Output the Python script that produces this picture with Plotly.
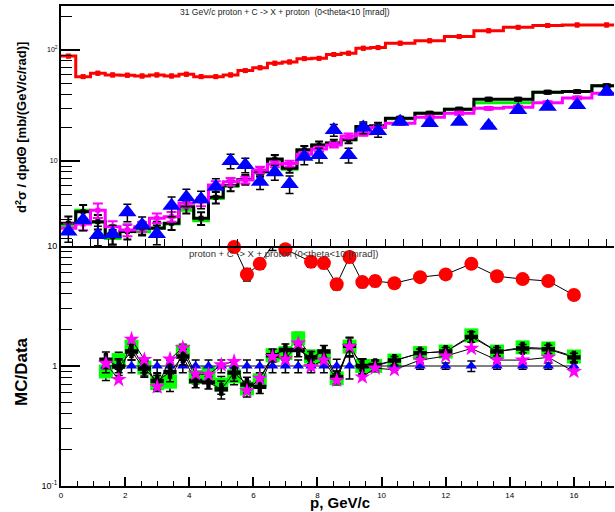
import plotly.graph_objects as go

# ---------------- upper pad: spectra (data in upper-pad p units) ----------------
top_edges = [0.0, 0.4, 0.8, 1.2, 1.6, 2.0, 2.4, 2.8, 3.2, 3.6, 4.0, 4.4, 4.8, 5.2, 5.6,
             6.0, 6.4, 6.8, 7.2, 7.6, 8.0, 8.4, 8.8, 9.6, 10.4, 11.2, 12.0, 12.8, 13.6, 14.4, 15.2]

red_mc = [88, 57.5, 61.7, 59.6, 59.2, 58.3, 59.6, 58.3, 60.4, 57.5, 57.5, 59.6, 65.2, 69.2,
          75.9, 78, 83.5, 84.1, 91, 93.4, 103.6, 105, 115, 121, 132, 149, 160, 166, 168, 168]
green_mc = [2.6, 3.6, 2.8, 2.0, 2.3, 2.3, 2.5, 2.7, 3.6, 2.9, 4.6, 5.9, 6.8, 8.0, 10.2, 8.4,
            12.4, 13.9, 14.5, 15.5, 20.0, 20.4, 24.0, 26.9, 29.3, 33.5, 33.5, 41.6, 42.2, 47.6]
black_mc = [2.75, 3.49, 2.84, 2.08, 2.31, 2.48, 2.48, 2.75, 3.87, 3.05, 4.7, 6.0, 6.8, 8.0,
            10.4, 8.6, 12.6, 13.9, 14.5, 15.5, 20.4, 20.8, 24.3, 26.9, 29.3, 36, 36, 41.6, 42.2, 47.6]
magenta_mc = [2.48, 2.7, 3.6, 2.56, 2.39, 2.56, 3.05, 3.15, 4.16, 4.3, 6.08, 6.5, 6.75, 8.3,
              9.33, 9.5, 11.5, 12.8, 13.9, 16.8, 17.6, 20.0, 21.9, 24.8, 26.9, 29.8, 30.5, 33.5, 37.0, 40.8]
data_top = [2.31, 2.94, 2.15, 2.2, 3.45, 2.65, 2.2, 3.94, 4.71, 4.52, 5.86, 10.0, 9.2, 6.5,
            7.9, 6.2, 10.9, 11.3, 19.0, 11.3, 20.0, 18.6, 22.6, 22.0, 22.6, 20.8, 28.8, 30.8, 32.0, 42.0]

# relative uncertainties
red_mc_err = [0.03] * 30
black_mc_err = [0.15, 0.15, 0.15, 0.15, 0.15, 0.14, 0.14, 0.13, 0.13, 0.13, 0.12, 0.11, 0.1, 0.1,
                0.09, 0.09, 0.08, 0.08, 0.07, 0.07, 0.06, 0.06, 0.03, 0.03, 0.03, 0.03, 0.03, 0.03, 0.03, 0.03]
magenta_mc_err = [0.1, 0.12, 0.15, 0.12, 0.12, 0.1, 0.1, 0.1, 0.09, 0.09, 0.08, 0.08, 0.07, 0.07,
                  0.06, 0.06, 0.05, 0.05, 0.05, 0.05, 0.04, 0.04, 0.03, 0.03, 0.03, 0.03, 0.03, 0.03, 0.03, 0.03]
data_top_err = [0.2, 0.2, 0.2, 0.2, 0.18, 0.18, 0.2, 0.2, 0.18, 0.18, 0.18, 0.15, 0.15, 0.15,
                0.15, 0.18, 0.15, 0.15, 0.12, 0.15, 0.12, 0.12, 0.05, 0.05, 0.05, 0.05, 0.05, 0.05, 0.05, 0.05]

# ---------------- lower pad: MC/Data ----------------
p_ratio = [1.4, 1.8, 2.2, 2.6, 3.0, 3.4, 3.8, 4.2, 4.6, 5.0, 5.4, 5.8, 6.2, 6.6, 7.0, 7.4, 7.8,
           8.2, 8.6, 9.0, 9.4, 9.8, 10.4, 11.2, 12.0, 12.8, 13.6, 14.4, 15.2, 16.0]
green_ratio = [0.9, 1.12, 1.45, 0.97, 0.72, 0.74, 1.32, 0.81, 0.87, 0.7, 0.82, 0.65, 0.76, 1.23,
               1.28, 1.7, 1.2, 1.2, 0.79, 1.45, 1.0, 1.0, 1.11, 1.28, 1.32, 1.8, 1.32, 1.43, 1.4, 1.2]
black_ratio = [1.13, 0.99, 1.32, 0.95, 0.75, 0.89, 1.2, 0.75, 0.73, 0.64, 0.88, 0.7, 0.67, 1.23,
               1.36, 1.36, 1.18, 1.32, 0.81, 1.47, 1.0, 1.02, 1.11, 1.28, 1.32, 1.75, 1.32, 1.4, 1.38, 1.18]
magenta_ratio = [1.05, 0.77, 1.67, 1.13, 0.67, 1.14, 1.42, 0.86, 0.85, 1.02, 1.09, 0.62, 0.79, 1.2,
                 1.14, 1.55, 0.99, 1.12, 0.76, 1.45, 0.81, 0.96, 0.93, 1.12, 1.21, 1.4, 1.12, 1.12, 1.18, 0.9]
blue_ratio = [1.0] * 30
ratio_err = [0.16, 0.16, 0.15, 0.15, 0.15, 0.17, 0.15, 0.12, 0.12, 0.17, 0.15, 0.15, 0.12, 0.12,
             0.12, 0.12, 0.12, 0.12, 0.12, 0.18, 0.15, 0.1, 0.08, 0.08, 0.08, 0.1, 0.08, 0.08, 0.08, 0.08]
blue_err = [0.12, 0.12, 0.12, 0.12, 0.12, 0.12, 0.12, 0.12, 0.12, 0.12, 0.12, 0.12, 0.12, 0.12,
            0.12, 0.12, 0.12, 0.12, 0.14, 0.22, 0.14, 0.1, 0.08, 0.06, 0.06, 0.1, 0.06, 0.06, 0.06, 0.06]

p_red = [5.4, 5.8, 6.2, 6.6, 7.0, 7.8, 8.2, 8.6, 9.0, 9.4, 9.8, 10.4, 11.2, 12.0, 12.8, 13.6, 14.4, 15.2, 16.0]
red_ratio = [9.8, 5.8, 7.1, 10.2, 9.4, 7.4, 7.2, 4.8, 8.1, 5.0, 5.1, 4.9, 5.5, 5.8, 7.1, 5.6, 5.3, 5.1, 3.9]
red_err = [0.1, 0.12, 0.1, 0.1, 0.1, 0.1, 0.1, 0.1, 0.1, 0.1, 0.1, 0.08, 0.06, 0.06, 0.08, 0.08, 0.08, 0.08, 0.06]

top_title = "31 GeV/c proton + C -&gt; X + proton  (0&lt;theta&lt;10 [mrad])"
bottom_title = "proton + C -&gt; X + proton (0&lt;theta&lt;10 [mrad])"

# ---------------- geometry ----------------
W, H = 615, 512
ML, MR, MT, MB = 61, 1, 6, 26
PW, PH = W - ML - MR, H - MT - MB
FONT = "Liberation Sans, Arial, sans-serif"


def px(x):
    return (x - ML) / PW


def py(y):
    return (H - MB - y) / PH


centers = [(a + b) / 2 for a, b in zip(top_edges[:-1], top_edges[1:])]


def absv(vals, rel):
    return [v * r for v, r in zip(vals, rel)]


fig = go.Figure()


def hist(vals, color, width=3):
    fig.add_trace(go.Scatter(x=top_edges, y=list(vals) + [vals[-1]], mode="lines",
                             line=dict(color=color, width=width, shape="hv"),
                             xaxis="x2", yaxis="y2", hoverinfo="skip"))


def hist_pts(vals, rel, color, ecolor, ewidth, size=5):
    fig.add_trace(go.Scatter(x=centers, y=vals, mode="markers",
                             marker=dict(symbol="square", size=size, color=color),
                             error_y=dict(type="data", array=absv(vals, rel), color=ecolor,
                                          thickness=2, width=ewidth),
                             xaxis="x2", yaxis="y2"))


hist(red_mc, "#ff0000")
hist_pts(red_mc, red_mc_err, "#ff0000", "#ff0000", 2)
hist(green_mc, "#00ee00")
hist(black_mc, "#000000")
hist_pts(black_mc, black_mc_err, "#000000", "#000000", 4)
hist(magenta_mc, "#ff00ff")
hist_pts(magenta_mc, magenta_mc_err, "#ff00ff", "#ff00ff", 5)
fig.add_trace(go.Scatter(x=centers, y=data_top, mode="markers",
                         marker=dict(symbol="triangle-up", size=16, color="#0000ff"),
                         error_y=dict(type="data", array=absv(data_top, data_top_err),
                                      color="#000000", thickness=1.5, width=4),
                         xaxis="x2", yaxis="y2"))

# lower pad


def ratio(xv, yv, rel, symbol, size, color, err=True, clip=True):
    fig.add_trace(go.Scatter(x=xv, y=yv, mode="lines+markers",
                             line=dict(color="#000000", width=1),
                             marker=dict(symbol=symbol, size=size, color=color),
                             error_y=dict(type="data", array=absv(yv, rel), color="#000000",
                                          thickness=1.5, width=4, visible=err),
                             cliponaxis=clip, xaxis="x", yaxis="y"))


ratio(p_ratio, green_ratio, ratio_err, "square", 14, "#00ff00")
ratio(p_ratio, blue_ratio, blue_err, "triangle-up", 10, "#0000ff")
ratio(p_ratio, black_ratio, ratio_err, "cross", 11, "#000000")
ratio(p_ratio, magenta_ratio, ratio_err, "star", 12, "#ff00ff", err=False)
ratio(p_red, red_ratio, red_err, "circle", 14, "#ff0000", clip=False)

tickfont = dict(family=FONT, size=8, color="#000000")

fig.update_layout(
    width=W, height=H,
    margin=dict(l=ML, r=MR, t=MT, b=MB, pad=0),
    paper_bgcolor="white", plot_bgcolor="white",
    showlegend=False,
    font=dict(family=FONT, color="#000000"),
    xaxis=dict(domain=[0, 1], anchor="y", range=[0, 17.25], showgrid=False, zeroline=False,
               showline=True, linecolor="black", linewidth=2,
               ticks="inside", ticklen=9, tickwidth=1.5, tickcolor="black",
               tickvals=[0, 2, 4, 6, 8, 10, 12, 14, 16], ticktext=["0", "2", "4", "6", "8", "10", "12", "14", "16"],
               tickfont=tickfont,
               minor=dict(ticks="inside", ticklen=5, tickwidth=1.2, tickcolor="black",
                          tickvals=[k * 0.5 for k in range(35)])),
    yaxis=dict(domain=[0, 0.5], anchor="x", type="log", range=[-1, 1], showgrid=False,
               zeroline=False, showline=True, linecolor="black", linewidth=2,
               ticks="inside", ticklen=19, tickwidth=1.5, tickcolor="black",
               tickvals=[0.1, 1, 10], ticktext=["10<sup>-1</sup>", "1", "10"],
               tickfont=dict(family=FONT, size=9, color="#000000"),
               minor=dict(ticks="inside", ticklen=11, tickwidth=1.2, tickcolor="black",
                          tickvals=[0.2, 0.3, 0.4, 0.5, 0.6, 0.7, 0.8, 0.9, 2, 3, 4, 5, 6, 7, 8, 9])),
    xaxis2=dict(domain=[0, 1], anchor="y2", range=[0, 15.0], showgrid=False, zeroline=False,
                showline=True, linecolor="black", linewidth=2, mirror=True,
                ticks="inside", ticklen=7, tickwidth=1.2, tickcolor="black",
                tick0=0.3, dtick=0.5, showticklabels=False),
    yaxis2=dict(domain=[0.5, 1], anchor="x2", type="log", range=[0.234, 2.396], showgrid=False,
                zeroline=False, showline=True, linecolor="black", linewidth=2,
                ticks="inside", ticklen=19, tickwidth=1.5, tickcolor="black",
                tickvals=[10, 100], ticktext=["10", "10<sup>2</sup>"],
                tickfont=dict(family=FONT, size=7, color="#000000"),
                minor=dict(ticks="inside", ticklen=11, tickwidth=1.2, tickcolor="black",
                           tickvals=[2, 3, 4, 5, 6, 7, 8, 9, 20, 30, 40, 50, 60, 70, 80, 90, 200])),
)

annots = [
    dict(text=top_title, x=px(285), y=py(12), size=8.5, angle=0, color="#222222"),
    dict(text=bottom_title, x=px(283), y=py(254), size=9.5, angle=0, color="#333333"),
    dict(text="<b>d<sup>2</sup>σ / dpdΘ [mb/(GeV/c/rad)]</b>", x=px(21), y=py(128), size=13, angle=-90, color="#000000"),
    dict(text="<b>MC/Data</b>", x=px(21), y=py(372), size=17, angle=-90, color="#000000"),
    dict(text="<b>p, GeV/c</b>", x=px(340), y=py(502), size=15, angle=0, color="#000000"),
]
for a in annots:
    fig.add_annotation(text=a["text"], x=a["x"], y=a["y"], xref="paper", yref="paper",
                       xanchor="center", yanchor="middle", showarrow=False, textangle=a["angle"],
                       font=dict(family=FONT, size=a["size"], color=a["color"]))

fig.write_html("out.html")
